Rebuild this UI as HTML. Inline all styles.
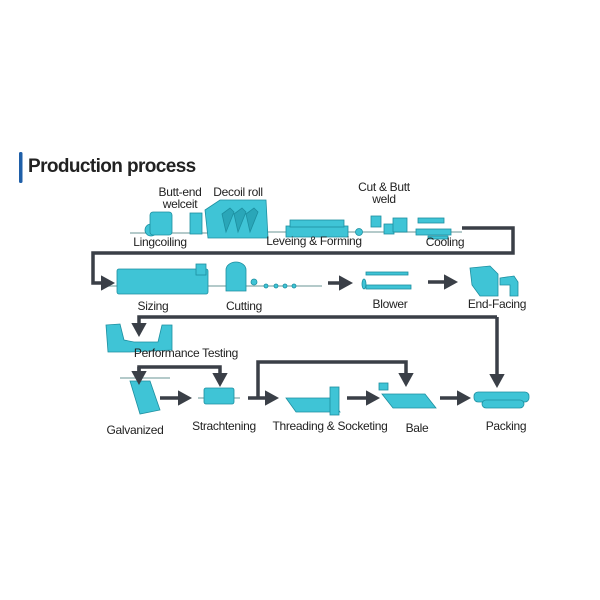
<!DOCTYPE html>
<html><head><style>
html,body{margin:0;padding:0;background:#fff}
svg{display:block}
text{font-family:"Liberation Sans",sans-serif;fill:#222}
</style></head><body>
<svg width="600" height="600" viewBox="0 0 600 600" xmlns="http://www.w3.org/2000/svg">
<defs>
<marker id="a" markerWidth="4" markerHeight="4.4" refX="2" refY="2.2" orient="auto" markerUnits="strokeWidth"><path d="M0,0 L4,2.2 L0,4.4z" fill="#3a3f47"/></marker>
</defs>
<rect x="19" y="152" width="3.5" height="31" rx="1.5" fill="#1f5fa8"/>
<text x="28" y="172" font-size="19" font-weight="bold" fill="#111" letter-spacing="-0.6">Production process</text>

<g stroke="#8aa" stroke-width="1.2">
<line x1="130" y1="233" x2="210" y2="233"/><line x1="268" y1="232" x2="462" y2="232"/>
<line x1="103" y1="286" x2="322" y2="286"/>
<line x1="120" y1="378" x2="170" y2="378"/><line x1="198" y1="398" x2="240" y2="398"/>
</g>
<g fill="#3fc4d6" stroke="#1d8fa0" stroke-width="0.8">
<circle cx="151" cy="230" r="6"/><rect x="150" y="212" width="22" height="23" rx="3"/>
<rect x="190" y="213" width="12" height="21"/>
<path d="M205 210 L220 200 L266 200 L268 238 L208 238 Z"/>
<path d="M222 214 l8 -6 l4 4 l-8 20z M234 214 l8 -6 l4 4 l-8 20z M246 214 l8 -6 l4 4 l-8 20z" fill="#2aa6b8"/>
<rect x="286" y="226" width="62" height="11"/><rect x="290" y="220" width="54" height="7"/>
<circle cx="359" cy="232" r="3.5"/>
<rect x="371" y="216" width="10" height="11"/><rect x="384" y="224" width="10" height="10"/><rect x="393" y="218" width="14" height="14"/>
<rect x="416" y="229" width="35" height="6"/><rect x="418" y="218" width="26" height="5"/><rect x="428" y="236" width="20" height="3"/>
<rect x="117" y="269" width="91" height="25" rx="2"/><rect x="196" y="264" width="10" height="11"/>
<path d="M226 270 a10 8 0 1 1 20 0 l0 21 l-20 0z"/><circle cx="254" cy="282" r="3"/>
<circle cx="266" cy="286" r="2"/><circle cx="276" cy="286" r="2"/><circle cx="285" cy="286" r="2"/><circle cx="294" cy="286" r="2"/>
<rect x="366" y="272" width="42" height="3"/><rect x="366" y="285" width="45" height="4"/><ellipse cx="364" cy="284" rx="2" ry="5"/>
<path d="M470 268 L490 266 L498 274 L498 296 L480 296 L472 285 Z"/><path d="M500 278 L514 276 L518 282 L518 296 L510 296 L510 285 L500 285 Z"/>
<path d="M106 325 L120 324 L124 340 L134 342 L158 342 L162 325 L172 325 L172 350 L130 352 L108 352 Z"/>
<path d="M130 381 L150 381 L160 410 L140 414 Z"/>
<rect x="204" y="388" width="30" height="16" rx="2"/>
<path d="M286 398 L330 398 L340 412 L296 412 Z"/><rect x="330" y="387" width="9" height="28"/>
<rect x="379" y="383" width="9" height="7"/>
<path d="M382 394 L425 394 L436 408 L393 408 Z"/>
<rect x="474" y="392" width="55" height="10" rx="4"/><rect x="482" y="400" width="42" height="8" rx="4"/>
</g>

<g stroke="#3a3f47" stroke-width="3.5" fill="none">
<polyline points="462,228 513,228 513,253 93,253 93,283 108,283" marker-end="url(#a)"/>
<line x1="328" y1="283" x2="346" y2="283" marker-end="url(#a)"/>
<line x1="428" y1="282" x2="451" y2="282" marker-end="url(#a)"/>
<polyline points="497,317 139,317 139,330" marker-end="url(#a)"/>
<line x1="497" y1="317" x2="497" y2="381" marker-end="url(#a)"/>
<polyline points="139,373 139,367 220,367 220,380" marker-end="url(#a)"/>
<line x1="139" y1="367" x2="139" y2="378" marker-end="url(#a)"/>
<line x1="160" y1="398" x2="185" y2="398" marker-end="url(#a)"/>
<polyline points="258,398 258,362 406,362 406,380" marker-end="url(#a)"/>
<line x1="248" y1="398" x2="272" y2="398" marker-end="url(#a)"/>
<line x1="347" y1="398" x2="373" y2="398" marker-end="url(#a)"/>
<line x1="440" y1="398" x2="464" y2="398" marker-end="url(#a)"/>
</g>

<g font-size="12" text-anchor="middle" letter-spacing="-0.3">
<text x="180" y="196">Butt-end</text><text x="180" y="208">welceit</text>
<text x="238" y="196">Decoil roll</text>
<text x="384" y="191">Cut &amp; Butt</text><text x="384" y="203">weld</text>
<text x="160" y="246">Lingcoiling</text><text x="314" y="245">Leveing &amp; Forming</text><text x="445" y="246">Cooling</text>
<text x="153" y="310">Sizing</text><text x="244" y="310">Cutting</text><text x="390" y="308">Blower</text><text x="497" y="308">End-Facing</text>
<text x="186" y="357">Performance Testing</text>
<text x="135" y="434">Galvanized</text><text x="224" y="430">Strachtening</text><text x="330" y="430">Threading &amp; Socketing</text><text x="417" y="432">Bale</text><text x="506" y="430">Packing</text>
</g>
</svg>
</body></html>
